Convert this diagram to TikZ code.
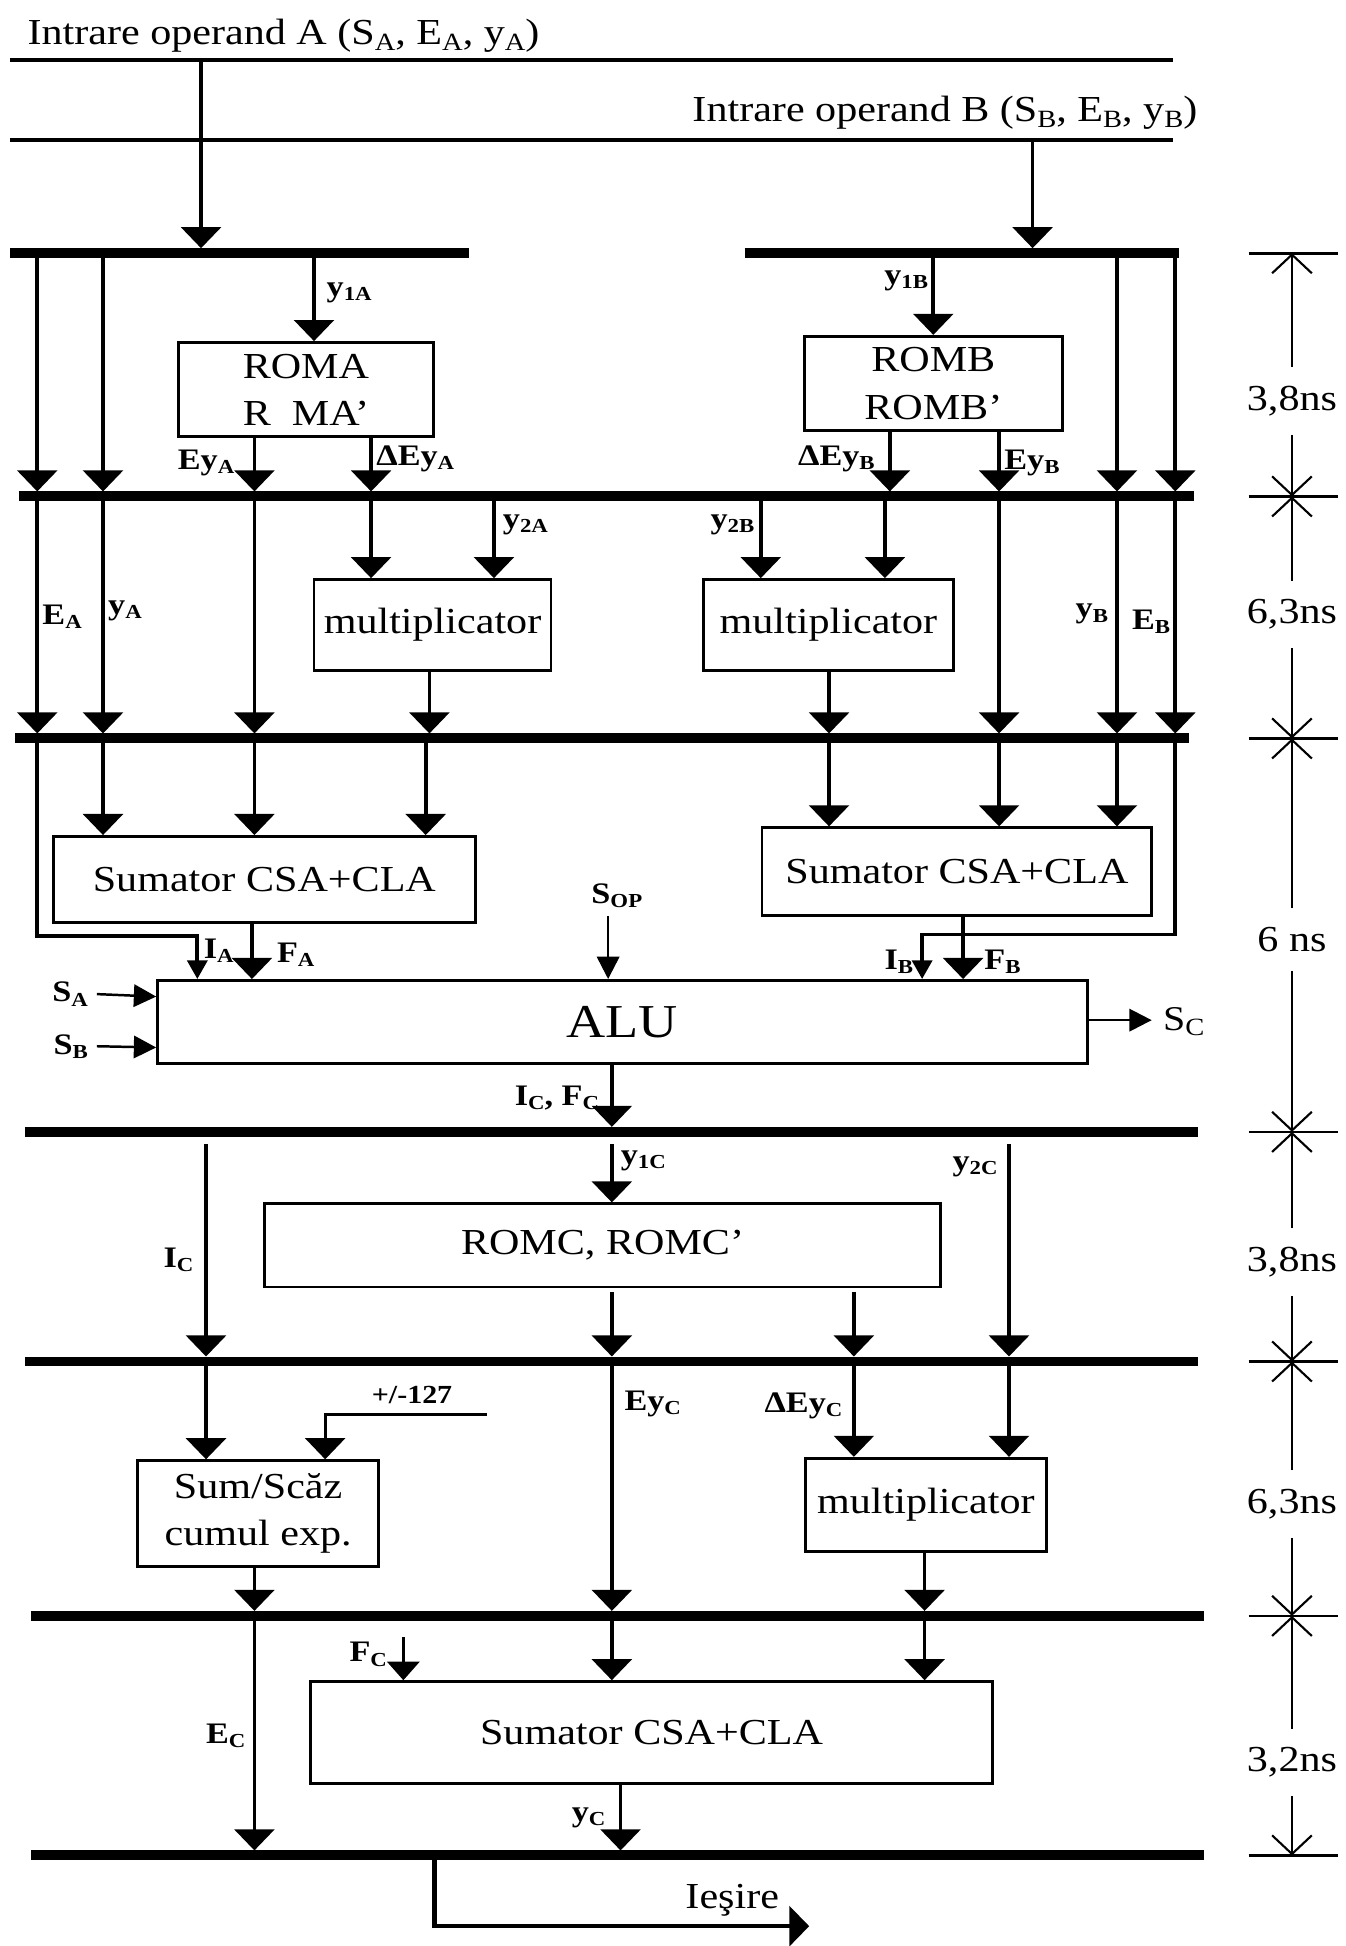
\documentclass[tikz,border=0pt]{standalone}
\usepackage{fontspec}
\setmainfont{Liberation Serif}[FakeStretch=1.15]
\usetikzlibrary{arrows.meta}
\newcommand{\lsub}[1]{\raisebox{-0.3ex}{\fontsize{16}{16}\selectfont #1}}
\newcommand{\tsub}[1]{\raisebox{-0.35ex}{\fontsize{20}{20}\selectfont #1}}
\begin{document}
\begin{tikzpicture}[x=1pt,y=-1pt,
  conn/.style={line width=3pt},
  arr/.style={conn,-{Triangle[length=17pt,width=32pt]}},
  tobus/.style={arr,shorten >=4pt},
  sarr/.style={conn,-{Triangle[length=15pt,width=16pt]}},
  thinarr/.style={line width=2pt,-{Triangle[length=18pt,width=18pt]}},
  bus/.style={line width=8pt},
  inbus/.style={line width=3.2pt},
  box/.style={draw,line width=2.3pt,inner sep=0pt,align=center,
    font=\fontsize{29.5}{38}\selectfont},
  lbl/.style={font=\fontsize{24}{26}\selectfont\bfseries,inner sep=1pt},
  txt/.style={font=\fontsize{29.5}{34}\selectfont,inner sep=0pt},
  dimlbl/.style={font=\fontsize{29.5}{34}\selectfont,inner xsep=0pt,inner ysep=15pt},
  dim/.style={line width=1.7pt,-{Straight Barb[length=15pt,width=32pt]}},
  tick/.style={line width=2.2pt},
]
\useasboundingbox (0,0) rectangle (1084,1568);

% ---------- input rails ----------
\node[txt,anchor=base west] (tA) at (22,36)
  {Intrare operand A (S\tsub{A}, E\tsub{A}, y\tsub{A})};
\node[txt,anchor=base east] (tB) at (965,98)
  {Intrare operand B (S\tsub{B}, E\tsub{B}, y\tsub{B})};
\coordinate (in1) at (0,48);
\coordinate (in2) at (0,113);
\draw[inbus] (8,0 |- in1) -- (945,0 |- in1);
\draw[inbus] (8,0 |- in2) -- (945,0 |- in2);

% ---------- pipeline buses ----------
\coordinate (b1) at (0,204);
\coordinate (b2) at (0,400);
\coordinate (b3) at (0,595);
\coordinate (b4) at (0,912);
\coordinate (b5) at (0,1097);
\coordinate (b6) at (0,1302);
\coordinate (b7) at (0,1495);
\draw[bus] (8,0 |- b1) -- (378,0 |- b1);
\draw[bus] (600,0 |- b1) -- (950,0 |- b1);
\draw[bus] (15,0 |- b2) -- (962,0 |- b2);
\draw[bus] (12,0 |- b3) -- (958,0 |- b3);
\draw[bus] (20,0 |- b4) -- (965,0 |- b4);
\draw[bus] (20,0 |- b5) -- (965,0 |- b5);
\draw[bus] (25,0 |- b6) -- (970,0 |- b6);
\draw[bus] (25,0 |- b7) -- (970,0 |- b7);

% ---------- blocks ----------
\node[box,minimum width=205pt,minimum height=76pt] (ROMA) at (246.5,314) {ROMA\\R~~MA’};
\node[box,minimum width=208pt,minimum height=76pt] (ROMB) at (752,309) {ROMB\\ROMB’};
\node[box,minimum width=191pt,minimum height=73pt] (MULA) at (348.5,503.5) {multiplicator};
\node[box,minimum width=201pt,minimum height=73pt] (MULB) at (667.5,503.5) {multiplicator};
\node[box,minimum width=340pt,minimum height=69pt] (SUMA) at (213,708.5) {Sumator CSA+CLA};
\node[box,minimum width=314pt,minimum height=71pt] (SUMB) at (771,702.5) {Sumator CSA+CLA};
\node[box,minimum width=749pt,minimum height=67pt,font=\fontsize{38}{42}\selectfont] (ALU) at (501.5,823.5) {ALU};
\node[box,minimum width=545pt,minimum height=67pt] (ROMC) at (485.5,1003.5) {ROMC, ROMC’};
\node[box,minimum width=194pt,minimum height=85pt] (SCAZ) at (208,1219.5) {Sum/Scăz\\cumul exp.};
\node[box,minimum width=194pt,minimum height=75pt] (MULC) at (746,1212.5) {multiplicator};
\node[box,minimum width=550pt,minimum height=82pt] (SUMC) at (525,1396) {Sumator CSA+CLA};

% ---------- stage 1 ----------
\draw[tobus] (162,0 |- in1) -- (162,0 |- b1);
\draw[tobus] (832,0 |- in2) -- (832,0 |- b1);
\draw[tobus] (30,0 |- b1) -- (30,0 |- b2);
\draw[tobus] (83,0 |- b1) -- (83,0 |- b2);
\draw[arr] (253,0 |- b1) -- (253,0 |- ROMA.north);
\draw[tobus] (205,0 |- ROMA.south) -- (205,0 |- b2);
\draw[tobus] (299,0 |- ROMA.south) -- (299,0 |- b2);
\draw[arr] (752,0 |- b1) -- (752,0 |- ROMB.north);
\draw[tobus] (717,0 |- ROMB.south) -- (717,0 |- b2);
\draw[tobus] (805,0 |- ROMB.south) -- (805,0 |- b2);
\draw[tobus] (900,0 |- b1) -- (900,0 |- b2);
\draw[tobus] (947,0 |- b1) -- (947,0 |- b2);
\node[lbl,anchor=west] (ly1A) at (262,236) {y\lsub{1A}};
\node[lbl,anchor=east] (lEyA) at (190,373) {Ey\lsub{A}};
\node[lbl,anchor=west] (ldEyA) at (302,370) {ΔEy\lsub{A}};
\node[lbl,anchor=east] (ly1B) at (749,226) {y\lsub{1B}};
\node[lbl,anchor=east] (ldEyB) at (706,370) {ΔEy\lsub{B}};
\node[lbl,anchor=west] (lEyB) at (808,373) {Ey\lsub{B}};

% ---------- stage 2 ----------
\draw[tobus] (30,0 |- b2) -- (30,0 |- b3);
\draw[tobus] (83,0 |- b2) -- (83,0 |- b3);
\draw[tobus] (205,0 |- b2) -- (205,0 |- b3);
\draw[arr] (299,0 |- b2) -- (299,0 |- MULA.north);
\draw[arr] (398,0 |- b2) -- (398,0 |- MULA.north);
\draw[tobus] (346,0 |- MULA.south) -- (346,0 |- b3);
\draw[arr] (613,0 |- b2) -- (613,0 |- MULB.north);
\draw[arr] (713,0 |- b2) -- (713,0 |- MULB.north);
\draw[tobus] (668,0 |- MULB.south) -- (668,0 |- b3);
\draw[tobus] (805,0 |- b2) -- (805,0 |- b3);
\draw[tobus] (900,0 |- b2) -- (900,0 |- b3);
\draw[tobus] (947,0 |- b2) -- (947,0 |- b3);
\node[lbl,anchor=west] (lEA) at (33,497) {E\lsub{A}};
\node[lbl,anchor=west] (lyA) at (86,492) {y\lsub{A}};
\node[lbl,anchor=west] (ly2A) at (404,423) {y\lsub{2A}};
\node[lbl,anchor=east] (ly2B) at (609,423) {y\lsub{2B}};
\node[lbl,anchor=east] (lyB) at (894,495) {y\lsub{B}};
\node[lbl,anchor=east] (lEB) at (944,501) {E\lsub{B}};

% ---------- stage 3 ----------
\draw[arr] (83,0 |- b3) -- (83,0 |- SUMA.north);
\draw[arr] (205,0 |- b3) -- (205,0 |- SUMA.north);
\draw[arr] (343,0 |- b3) -- (343,0 |- SUMA.north);
\draw[arr] (668,0 |- b3) -- (668,0 |- SUMB.north);
\draw[arr] (805,0 |- b3) -- (805,0 |- SUMB.north);
\draw[arr] (900,0 |- b3) -- (900,0 |- SUMB.north);
\coordinate (eaK) at (30,754);
\coordinate (ebK) at (947,753);
\draw[sarr] (30,0 |- b3) -- (eaK) -- (159,0 |- eaK) -- (159,0 |- ALU.north);
\draw[arr] (203,0 |- SUMA.south) -- (203,0 |- ALU.north);
\draw[sarr] (947,0 |- b3) -- (ebK) -- (743,0 |- ebK) -- (743,0 |- ALU.north);
\draw[arr] (776,0 |- SUMB.south) -- (776,0 |- ALU.north);
\node[lbl] (lSOP) at (497,722) {S\lsub{OP}};
\coordinate (sop) at (490,738);
\draw[thinarr] (sop) -- (490,0 |- ALU.north);
\node[lbl,anchor=west] (lIA) at (163,766) {I\lsub{A}};
\node[lbl,anchor=west] (lFA) at (222,769) {F\lsub{A}};
\node[lbl,anchor=east] (lIB) at (737,775) {I\lsub{B}};
\node[lbl,anchor=west] (lFB) at (792,775) {F\lsub{B}};
\node[lbl,anchor=east] (lSA) at (72,801) {S\lsub{A}};
\node[lbl,anchor=east] (lSB) at (72,843) {S\lsub{B}};
\draw[thinarr] (lSA.east -| 78,0) -- (ALU.west |- 0,803);
\draw[thinarr] (lSB.east -| 78,0) -- (ALU.west |- 0,844);
\node[txt,anchor=west,font=\fontsize{28}{32}\selectfont] (lSC) at (937,823) {S\raisebox{-0.35ex}{\fontsize{20}{20}\selectfont C}};
\draw[thinarr] (ALU.east |- 0,822) -- (928,822);
\draw[tobus] (493,0 |- ALU.south) -- (493,0 |- b4);
\node[lbl,anchor=east] (lICFC) at (484,885) {I\lsub{C}, F\lsub{C}};

% ---------- stage 4 ----------
\draw[tobus] (166,922) -- (166,0 |- b5);
\draw[arr] (493,922) -- (493,0 |- ROMC.north);
\draw[tobus] (813,922) -- (813,0 |- b5);
\draw[tobus] (493,1041) -- (493,0 |- b5);
\draw[tobus] (688,1041) -- (688,0 |- b5);
\node[lbl,anchor=west] (ly1C) at (499,935) {y\lsub{1C}};
\node[lbl,anchor=east] (ly2C) at (805,940) {y\lsub{2C}};
\node[lbl,anchor=east] (lIC) at (157,1015) {I\lsub{C}};

% ---------- stage 5 ----------
\draw[arr] (166,0 |- b5) -- (166,0 |- SCAZ.north);
\coordinate (k127) at (392,1140);
\draw[arr,line width=2.4pt] (k127) -- (262,0 |- k127) -- (262,0 |- SCAZ.north);
\node[lbl,font=\fontsize{21}{24}\selectfont\bfseries] (l127) at (332,1124) {+/-127};
\draw[tobus] (493,0 |- b5) -- (493,0 |- b6);
\draw[arr] (688,0 |- b5) -- (688,0 |- MULC.north);
\draw[arr] (813,0 |- b5) -- (813,0 |- MULC.north);
\draw[tobus] (745,0 |- MULC.south) -- (745,0 |- b6);
\draw[tobus] (205,0 |- SCAZ.south) -- (205,0 |- b6);
\node[lbl,anchor=west] (lEyC) at (502,1131) {Ey\lsub{C}};
\node[lbl,anchor=east] (ldEyC) at (680,1133) {ΔEy\lsub{C}};

% ---------- stage 6 ----------
\draw[tobus] (205,0 |- b6) -- (205,0 |- b7);
\coordinate (fc) at (325,1319);
\draw[conn,line width=2.2pt,-{Triangle[length=15pt,width=26pt]}] (fc) -- (325,0 |- SUMC.north);
\draw[arr] (493,0 |- b6) -- (493,0 |- SUMC.north);
\draw[arr] (745,0 |- b6) -- (745,0 |- SUMC.north);
\draw[tobus] (500,0 |- SUMC.south) -- (500,0 |- b7);
\node[lbl,anchor=east] (lFC) at (313,1333) {F\lsub{C}};
\node[lbl,anchor=east] (lEC) at (199,1399) {E\lsub{C}};
\node[lbl,anchor=east] (lyC) at (489,1465) {y\lsub{C}};

% ---------- output ----------
\coordinate (o1) at (350,1552);
\coordinate (o2) at (652,1552);
\draw[line width=3.5pt,-{Triangle[length=16pt,width=32pt]}] (350,0 |- b7) -- (o1) -- (o2);
\node[txt] (lout) at (590,1531) {Ieşire};

% ---------- timing scale ----------
\coordinate (t0) at (1041,0 |- b1);
\coordinate (t1) at (1041,0 |- b2);
\coordinate (t2) at (1041,0 |- b3);
\coordinate (t3) at (1041,0 |- b4);
\coordinate (t4) at (1041,0 |- b5);
\coordinate (t5) at (1041,0 |- b6);
\coordinate (t6) at (1041,0 |- b7);
\foreach \t in {t0,t1,t2,t3,t4,t5,t6}
  \draw[tick] ([xshift=-35pt]\t) -- ([xshift=37pt]\t);
\node[dimlbl] (d1) at (1041,323) {3,8ns};
\node[dimlbl] (d2) at (1041,495) {6,3ns};
\node[dimlbl] (d3) at (1041,757) {6 ns};
\node[dimlbl] (d4) at (1041,1017) {3,8ns};
\node[dimlbl] (d5) at (1041,1212) {6,3ns};
\node[dimlbl] (d6) at (1041,1420) {3,2ns};
\draw[dim] (d1.north) -- (t0);  \draw[dim] (d1.south) -- (t1);
\draw[dim] (d2.north) -- (t1);  \draw[dim] (d2.south) -- (t2);
\draw[dim] (d3.north) -- (t2);  \draw[dim] (d3.south) -- (t3);
\draw[dim] (d4.north) -- (t3);  \draw[dim] (d4.south) -- (t4);
\draw[dim] (d5.north) -- (t4);  \draw[dim] (d5.south) -- (t5);
\draw[dim] (d6.north) -- (t5);  \draw[dim] (d6.south) -- (t6);
\end{tikzpicture}
\end{document}
